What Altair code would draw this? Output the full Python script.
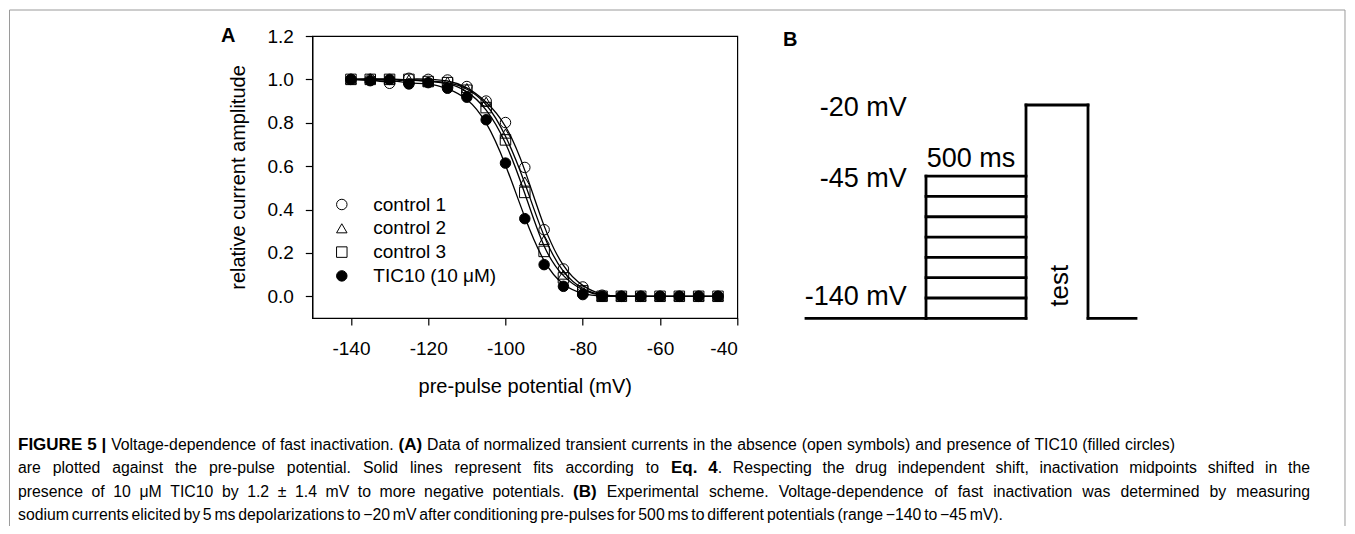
import altair as alt
import pandas as pd

FONT = "Liberation Sans"

# ---------------- Panel A data ----------------
voltages = [-140, -135, -130, -125, -120, -115, -110, -105, -100, -95,
            -90, -85, -80, -75, -70, -65, -60, -55, -50, -45]
control1 = [1.0, 1.0, 0.982, 1.005, 1.0, 0.997, 0.967, 0.90, 0.801, 0.594,
            0.307, 0.126, 0.043, 0.005, 0.0, 0.0, 0.0, 0.0, 0.0, 0.0]
control2 = [1.0, 1.005, 1.0, 1.0, 0.99, 0.99, 0.96, 0.897, 0.75, 0.529,
            0.26, 0.10, 0.03, 0.002, 0.0, 0.0, 0.0, 0.0, 0.0, 0.0]
control3 = [1.0, 1.0, 1.0, 1.0, 0.99, 0.985, 0.95, 0.87, 0.721, 0.479,
            0.207, 0.085, 0.025, 0.0, 0.0, 0.0, 0.0, 0.0, 0.0, 0.0]
tic10 = [1.0, 0.994, 1.0, 0.979, 0.985, 0.959, 0.918, 0.814, 0.614, 0.358,
         0.146, 0.046, 0.008, 0.0, 0.0, 0.0, 0.0, 0.0, 0.0, 0.0]
series_names = ["control 1", "control 2", "control 3", "TIC10 (10 μM)"]
series_values = [control1, control2, control3, tic10]
series_shapes = ["circle", "triangle-up", "square", "circle"]
series_fills = ["transparent", "transparent", "transparent", "black"]

x_ticks = [-140, -120, -100, -80, -60, -40]
y_ticks = [0.0, 0.2, 0.4, 0.6, 0.8, 1.0, 1.2]

rows = []
for name, vals in zip(series_names, series_values):
    for v, r in zip(voltages, vals):
        rows.append({"v": v, "r": r, "series": name})
dfA = pd.DataFrame(rows)

# ---------------- Panel B data (schematic protocol) ----------------
proto_times = [0, 120, 220, 282, 330]   # hold start, prepulse start, test start, test end, end
prepulse_levels = [0, 1, 2, 3, 4, 5, 6, 7]
test_level = 10.5

segs = []
t0, t1, t2, t3, t4 = proto_times
segs.append({"t": t0, "t2": t1, "l": 0, "l2": 0})
for lv in prepulse_levels:
    segs.append({"t": t1, "t2": t2, "l": lv, "l2": lv})
segs.append({"t": t1, "t2": t1, "l": 0, "l2": max(prepulse_levels)})
segs.append({"t": t2, "t2": t2, "l": 0, "l2": test_level})
segs.append({"t": t2, "t2": t3, "l": test_level, "l2": test_level})
segs.append({"t": t3, "t2": t3, "l": 0, "l2": test_level})
segs.append({"t": t3, "t2": t4, "l": 0, "l2": 0})
dfB = pd.DataFrame(segs)

# ---------------- Caption text: (text, bold, space before, anchor x) ----------------
caption_lines = [
    [("FIGURE 5 |", True, False, None),
     ("Voltage-dependence of fast inactivation.", False, True, None),
     ("(A)", True, True, None),
     ("Data of normalized transient currents in the absence (open symbols) and presence of TIC10 (filled circles)", False, True, None)],
    [("are plotted against the pre-pulse potential. Solid lines represent fits according to", False, False, None),
     ("Eq. 4", True, True, 671),
     (". Respecting the drug independent shift, inactivation midpoints shifted in the", False, False, None)],
    [("presence of 10 μM TIC10 by 1.2 ± 1.4 mV to more negative potentials.", False, False, None),
     ("(B)", True, True, 573),
     ("Experimental scheme. Voltage-dependence of fast inactivation was determined by measuring", False, True, None)],
    [("sodium currents elicited by 5 ms depolarizations to −20 mV after conditioning pre-pulses for 500 ms to different potentials (range −140 to −45 mV).", False, False, None)],
]
caption_line_ends = [1175, 1310, 1310, 1003]

# view-coordinate origin (page x=312.3, y=36)
OX, OY = 312.3, 36.0
W, H = 425, 282

xA = alt.X("v:Q", scale=alt.Scale(domain=[-150, -40], nice=False, zero=False),
           axis=alt.Axis(values=x_ticks, title="pre-pulse potential (mV)",
                         labelExpr="toString(datum.value)",
                         titleX=W / 2, titleY=68, titleBaseline="middle",
                         labelPadding=14))
yA = alt.Y("r:Q", scale=alt.Scale(domain=[-0.1, 1.2], nice=False, zero=False),
           axis=alt.Axis(values=y_ticks, title="relative current amplitude", format=".1f",
                         titleX=-74, titleY=H / 2, titleBaseline="middle", titleAlign="center",
                         labelPadding=12))

fits = alt.Chart(dfA).mark_line(interpolate="basis", color="black", strokeWidth=1.3).encode(
    x=xA, y=yA, detail="series:N")

leg = alt.Legend(title=None, orient="none", legendX=20, legendY=159,
                 labelFontSize=19, labelFont=FONT, labelOffset=22, labelColor="black",
                 rowPadding=3.8, symbolSize=110, padding=0,
                 symbolStrokeColor="black", symbolStrokeWidth=1)
points = alt.Chart(dfA).mark_point(opacity=1, strokeWidth=1, size=110).encode(
    x="v:Q", y="r:Q",
    shape=alt.Shape("series:N", scale=alt.Scale(domain=series_names, range=series_shapes), legend=leg),
    fill=alt.Fill("series:N", scale=alt.Scale(domain=series_names, range=series_fills), legend=leg),
    stroke=alt.Stroke("series:N", scale=alt.Scale(domain=series_names, range=["black"] * 4), legend=leg),
)

panelA = alt.layer(fits, points)

panelB = alt.Chart(dfB).mark_rule(color="black", strokeWidth=2.8, strokeCap="square").encode(
    x=alt.X("t:Q", scale=alt.Scale(domain=[0, 330], range=[806 - OX, 1136 - OX], nice=False, zero=False), axis=None),
    x2="t2:Q",
    y=alt.Y("l:Q", scale=alt.Scale(domain=[0, 10.5], range=[318.3 - OY, 105 - OY], nice=False, zero=False), axis=None),
    y2="l2:Q",
)


def txt(s, px, py, size, weight="normal", align="left", baseline="alphabetic", angle=0):
    return alt.Chart(pd.DataFrame({"s": [s]})).mark_text(
        font=FONT, fontSize=size, fontWeight=weight, align=align, baseline=baseline,
        angle=angle, color="black").encode(
        text="s:N", x=alt.value(px - OX), y=alt.value(py - OY))


frame = alt.Chart(pd.DataFrame({"a": [0]})).mark_rect(
    fillOpacity=0, stroke="#9a9a9a", strokeWidth=1).encode(
    x=alt.value(9.5 - OX), x2=alt.value(1345 - OX), y=alt.value(10 - OY), y2=alt.value(700))

labels = [
    txt("A", 221, 41.7, 20, weight="bold"),
    txt("B", 783, 46, 20, weight="bold"),
    txt("-20 mV", 906.7, 116, 27, align="right"),
    txt("-45 mV", 906.7, 186.7, 27, align="right"),
    txt("-140 mV", 906.7, 305, 27, align="right"),
    txt("500 ms", 926.7, 166.7, 27),
    txt("test", 1060, 285.7, 26, align="center", baseline="middle", angle=270),
]

# --- caption layout with Arial-compatible (Liberation Sans) advance widths ---
REG = {" ": 278, "(": 333, ")": 333, ",": 278, "-": 333, ".": 278, "|": 260, "±": 549,
       "μ": 576, "−": 584, "A": 667, "B": 667, "C": 722, "D": 722, "E": 667, "F": 611,
       "G": 778, "I": 278, "M": 833, "R": 722, "S": 667, "T": 611, "U": 722, "V": 667,
       "a": 556, "b": 556, "c": 500, "d": 556, "e": 556, "f": 278, "g": 556, "h": 556,
       "i": 222, "j": 222, "k": 500, "l": 222, "m": 833, "n": 556, "o": 556, "p": 556,
       "q": 556, "r": 333, "s": 500, "t": 278, "u": 556, "v": 500, "w": 722, "x": 500,
       "y": 500, "z": 500}
BLD = {" ": 278, "(": 333, ")": 333, ".": 278, "|": 280, "A": 722, "B": 722, "E": 667,
       "F": 611, "G": 778, "I": 278, "R": 722, "U": 722, "q": 611}
CAP = 15.8
CAP_BOLD = 17.0
CAP_LEFT = 18.0
cap_baselines = [450, 473.3, 496.7, 520]


def tw(s, bold):
    tab = BLD if bold else REG
    size = CAP_BOLD if bold else CAP
    return sum(tab.get(c, 556) for c in s) * size / 1000.0


caption_layers = []
for line, line_end, by in zip(caption_lines, caption_line_ends, cap_baselines):
    toks = []
    for text, bold, gap, anchor in line:
        for k, w in enumerate(text.split(" ")):
            toks.append({"w": w, "b": bold, "gap": gap if k == 0 else True,
                         "anchor": anchor if k == 0 else None})
    runs = []
    for t in toks:
        if not runs or t["anchor"] is not None:
            runs.append([t])
        else:
            runs[-1].append(t)
    placed = {True: [], False: []}
    nat_space = tw(" ", False)
    for ri, run in enumerate(runs):
        start = run[0]["anchor"] if run[0]["anchor"] is not None else CAP_LEFT
        if ri + 1 < len(runs):
            end = runs[ri + 1][0]["anchor"]
            trailing = 1 if runs[ri + 1][0]["gap"] else 0
        else:
            end = line_end
            trailing = 0
        widths = [tw(t["w"], t["b"]) for t in run]
        n = sum(1 for k, t in enumerate(run) if k > 0 and t["gap"]) + trailing
        space = nat_space
        if end is not None and n > 0:
            space = max((end - start - sum(widths)) / n, 0.14 * CAP)
        x = start
        for k, t in enumerate(run):
            if k > 0 and t["gap"]:
                x += space
            placed[t["b"]].append({"w": t["w"], "px": x - OX})
            x += widths[k]
    for b, lst in placed.items():
        if lst:
            caption_layers.append(
                alt.Chart(pd.DataFrame(lst)).mark_text(
                    font=FONT, fontSize=CAP_BOLD if b else CAP, fontWeight="bold" if b else "normal",
                    align="left", baseline="alphabetic", color="black").encode(
                    text="w:N", x=alt.X("px:Q", scale=None), y=alt.value(by - OY)))

chart = alt.layer(frame, panelA, panelB, *labels, *caption_layers).resolve_scale(
    x="independent", y="independent"
).properties(
    width=W, height=H,
    autosize=alt.AutoSizeParams(type="none"),
    padding={"left": OX - 8, "top": OY - 8, "right": 1339 - (OX - 8) - W, "bottom": 518 - (OY - 8) - H},
).configure_view(stroke="black", strokeWidth=1.2).configure_axis(
    grid=False, domainColor="black", domainWidth=1.2, tickColor="black", tickWidth=1.2,
    tickSize=7, labelFont=FONT, labelFontSize=19, labelColor="black",
    titleFont=FONT, titleFontSize=20, titleFontWeight="normal", titleColor="black",
)

chart.save("out.html", embed_options={"renderer": "svg", "actions": False})
